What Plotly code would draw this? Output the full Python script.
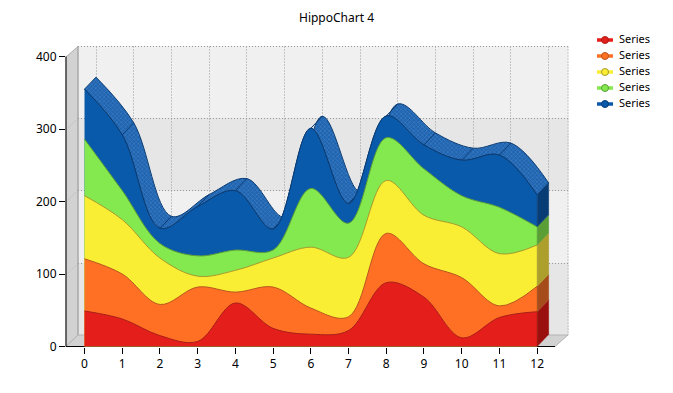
import plotly.graph_objects as go

W, H = 673, 393
FIG_H = 401
categories = list(range(13))
red_top = [49, 38, 15, 7, 60, 25, 17, 22, 88, 68, 12, 40, 48]
orange_top = [121, 100, 58, 82, 75, 82, 53, 41, 156, 114, 95, 56, 83]
yellow_top = [208, 175, 122, 97, 105, 122, 137, 123, 229, 181, 165, 128, 140]
green_top = [286, 215, 142, 125, 133, 133, 218, 170, 288, 245, 208, 192, 165]
blue_top = [355, 292, 163, 193, 215, 162, 301, 197, 318, 278, 257, 264, 209]
y_ticks = [0, 100, 200, 300, 400]
legend_labels = ["Series"] * 5
front_colors = ["#e41e1a", "#ff7024", "#f9ee33", "#84e84f", "#0a5aab"]
side_colors = ["#99100f", "#a64c1a", "#ac9f2b", "#5a9e36", "#083c74"]
edge_colors = ["#a8201a", "#b8571e", "#a89a30", "#5e9e38", "#0b3c73"]
SMOOTH = 1.0

# pixel geometry
X0, PXU = 84.5, 37.72
Y0, PYU = 346.5, 0.725
L, R, T, B = 66.0, 568.0, 46.0, 346.5
DX_PX, DY_PX = 11.5, 12.0
dx, dy = DX_PX / PXU, DY_PX / PYU
px = lambda v: v / W
py = lambda v: 1 - v / H

stacks = [red_top, orange_top, yellow_top, green_top, blue_top]
traces = []

# depth ribbon of the top series
traces.append(go.Scatter(x=[c + dx for c in categories], y=[v + dy for v in blue_top], mode="lines",
                         line=dict(color="#0b3c73", width=1, shape="spline", smoothing=SMOOTH),
                         showlegend=False, hoverinfo="skip"))
traces.append(go.Scatter(x=categories, y=blue_top, mode="lines", fill="tonexty",
                         fillcolor="#2a6bb3",
                         fillpattern=dict(shape="x", bgcolor="#1f64b0", fgcolor="#5a94d0", size=3, solidity=0.4),
                         line=dict(color="#0b3c73", width=1, shape="spline", smoothing=SMOOTH),
                         showlegend=False, hoverinfo="skip"))
# ribbon dividers at every category
div_x, div_y = [], []
for c, v in zip(categories, blue_top):
    div_x += [c, c + dx, None]
    div_y += [v, v + dy, None]
traces.append(go.Scatter(x=div_x, y=div_y, mode="lines", line=dict(color="#0b3c73", width=1),
                         showlegend=False, hoverinfo="skip"))

# stacked fronts, highest first
for i in range(4, -1, -1):
    traces.append(go.Scatter(x=categories, y=stacks[i], mode="lines", fill="tozeroy",
                             fillcolor=front_colors[i],
                             line=dict(color=edge_colors[i], width=1, shape="spline", smoothing=SMOOTH),
                             showlegend=False, hoverinfo="skip"))

# side faces at the last category
last = categories[-1]
lower = 0
for i in range(5):
    top = stacks[i][-1]
    traces.append(go.Scatter(x=[last, last + dx, last + dx, last, last],
                             y=[lower, lower + dy, top + dy, top, lower],
                             mode="lines", fill="toself", fillcolor=side_colors[i],
                             line=dict(color=side_colors[i], width=0.5),
                             showlegend=False, hoverinfo="skip"))
    lower = top

# legend built on the pixel axes
for i, label in enumerate(legend_labels):
    yy = 40 + i * 16
    traces.append(go.Scatter(x=[597, 605, 613], y=[yy, yy, yy], mode="lines", xaxis="x2", yaxis="y2",
                             line=dict(color=front_colors[i], width=3.5), showlegend=False, hoverinfo="skip"))
    traces.append(go.Scatter(x=[605], y=[yy], mode="markers", xaxis="x2", yaxis="y2",
                             marker=dict(color=front_colors[i], size=7, line=dict(color=edge_colors[i], width=1)),
                             showlegend=False, hoverinfo="skip"))
    traces.append(go.Scatter(x=[619], y=[yy], mode="text", xaxis="x2", yaxis="y2",
                             text=[label], textposition="middle right",
                             textfont=dict(family="Noto Sans", size=11, color="#000"),
                             showlegend=False, hoverinfo="skip"))

shapes = []
def poly(pts, fill, line=None):
    path = "M" + " L".join(f"{px(a):.5f},{py(b):.5f}" for a, b in pts) + " Z"
    shapes.append(dict(type="path", xref="paper", yref="paper", path=path, fillcolor=fill, layer="below",
                       line=dict(color=line or fill, width=1)))
def seg(a, b, c, d, color="#999999", dash="1px,2px", width=1):
    shapes.append(dict(type="line", xref="paper", yref="paper", x0=px(a), y0=py(b), x1=px(c), y1=py(d),
                       layer="below", line=dict(color=color, width=width, dash=dash)))

bx, by = L + 12, B - 11.5
wall_rows = [46.5, 118.5, 190.5, 263.5, 335.5]
poly([(bx, wall_rows[0]), (R, wall_rows[0]), (R, wall_rows[-1]), (bx, wall_rows[-1])], "#f0f0f0")
for a, b in [(1, 2), (3, 4)]:
    poly([(bx, wall_rows[a]), (R, wall_rows[a]), (R, wall_rows[b]), (bx, wall_rows[b])], "#e6e6e6")
poly([(L, 57), (bx, 46.5), (bx, by), (L, B)], "#d2d2d2", "#b4b4b4")
poly([(L, B), (bx, by), (R, by), (555, B)], "#d2d2d2", "#b4b4b4")
for c in categories:
    gx = int(X0 + c * PXU + 11.5) + 0.5
    seg(gx, 46.5, gx, by)
for w in wall_rows[:-1]:
    seg(bx, w, R, w)
    seg(L, w + 11, bx, w, color="#b0b0b0")
seg(R, 46.5, R, by)
seg(bx, 46.5, bx, by, color="#a0a0a0", dash="solid")
# axis lines
seg(L, 56.5, L, B, color="#000", dash="solid")
seg(L, B, 555, B, color="#000", dash="solid")

fig = go.Figure(traces)
fig.update_layout(
    width=W, height=FIG_H, autosize=False,
    margin=dict(l=0, r=0, t=0, b=FIG_H - H),
    paper_bgcolor="#fff", plot_bgcolor="rgba(0,0,0,0)",
    showlegend=False,
    shapes=shapes,
    font=dict(family="Noto Sans", size=12, color="#000"),
    annotations=[dict(text="HippoChart 4", xref="paper", yref="paper", x=px(336), y=py(18), showarrow=False,
                      yanchor="middle", font=dict(family="Noto Sans", size=12, color="#000"))],
    xaxis=dict(domain=[px(L), px(R)], range=[(L - X0) / PXU, (R - X0) / PXU],
               tickmode="array", tickvals=categories, ticks="outside", ticklen=6, tickcolor="#000",
               showgrid=False, zeroline=False, showline=False, anchor="y"),
    yaxis=dict(domain=[py(B), py(T)], range=[0, (Y0 - T) / PYU],
               tickmode="array", tickvals=y_ticks, ticks="outside", ticklen=6, tickcolor="#000",
               showgrid=False, zeroline=False, showline=False, anchor="x"),
    xaxis2=dict(domain=[0, 1], range=[0, W], visible=False, anchor="y2"),
    yaxis2=dict(domain=[0, 1], range=[H, 0], visible=False, anchor="x2"),
)
fig.write_html("out.html", config={"displayModeBar": False},
               post_script="document.body.style.margin='0';document.body.style.overflow='hidden';")
